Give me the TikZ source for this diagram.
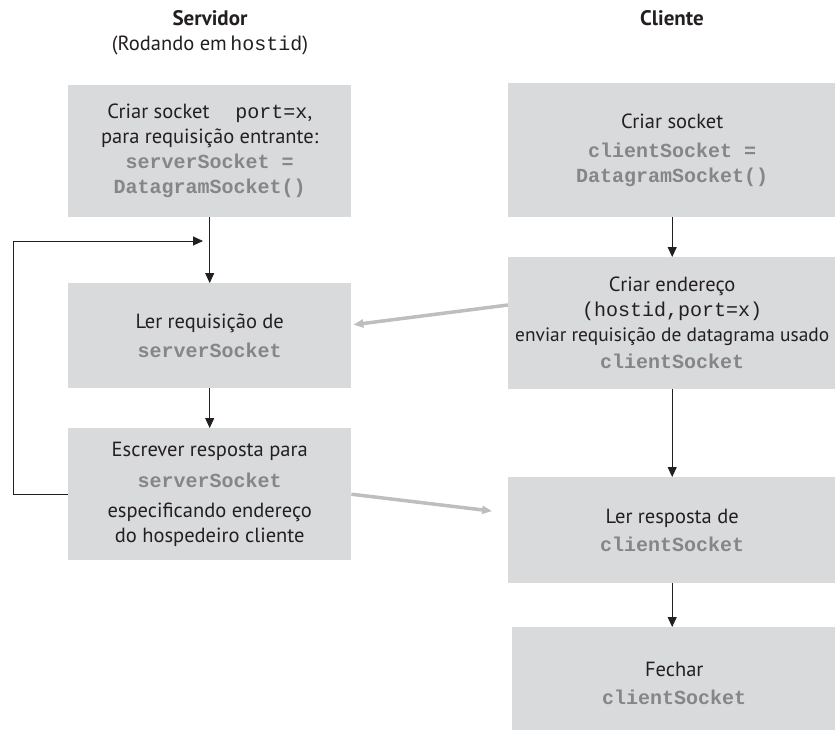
\documentclass[tikz,border=0pt]{standalone}
\usepackage{fontspec}
\setmainfont{PT Sans}
\setmonofont{Liberation Mono}
\usepackage{xcolor}
\usetikzlibrary{arrows.meta,calc}
\definecolor{udpbox}{HTML}{D9DADC}
\definecolor{udpcode}{HTML}{858688}
\definecolor{udpink}{HTML}{231F20}
\definecolor{udpflow}{HTML}{BCBEC0}
\newcommand{\cod}[1]{{\fontsize{20}{25}\ttfamily\bfseries\color{udpcode}#1}}
\newcommand{\mon}[1]{{\fontsize{20}{25}\ttfamily #1}}
\tikzset{
  passo/.style={rectangle, fill=udpbox, text=udpink, align=center,
                font=\fontsize{20.5}{25}\selectfont, inner sep=0pt,
                anchor=north west, minimum width=283pt},
  cpasso/.style={passo, minimum width=328pt},
  cab/.style={font=\fontsize{21}{24}\selectfont\bfseries, text=udpink},
  seta/.style={-{Triangle[length=10pt,width=9pt]}, draw=udpink, line width=0.9pt},
  dado/.style={-{Triangle[length=10pt,width=8pt]}, draw=udpflow, line width=3.5pt},
}
\begin{document}
\begin{tikzpicture}[x=1pt,y=1pt]
\clip (0,0) rectangle (835,-730);
\useasboundingbox (0,0) rectangle (835,-730);

% headers
\node[cab] (srv) at (210,-18) {Servidor};
\node[text=udpink,font=\fontsize{20.5}{24}\selectfont] (srvhost) at (210,-45)
   {(Rodando em\,\mon{hostid})};
\node[cab] (cli) at (672,-18) {Cliente};

% server side
\node[passo,minimum height=132pt] (s1) at (68,-85)
   {Criar socket\quad\ \mon{port=x},\\para requisição entrante:\\
    \cod{serverSocket =}\\\cod{DatagramSocket()}};
\node[passo,minimum height=105pt] (s2) at (68,-283)
   {Ler requisição de\\[4pt]\cod{serverSocket}};
\node[passo,minimum height=132pt] (s3) at (68,-428)
   {Escrever resposta para\\[6pt]\cod{serverSocket}\\[5pt]especificando endereço\\do hospedeiro cliente};

% client side
\node[cpasso,minimum height=134pt] (c1) at (508,-83)
   {Criar socket\\[4pt]\cod{clientSocket =}\\\cod{DatagramSocket()}};
\node[cpasso,minimum height=132pt] (c2) at (508,-257)
   {Criar endereço\\\mon{(hostid,port=x)}\\
    {\fontsize{19.4}{25}\selectfont enviar requisição de datagrama usado}\\[2pt]\cod{clientSocket}};
\node[cpasso,minimum height=106pt] (c3) at (508,-477)
   {Ler resposta de\\[3pt]\cod{clientSocket}};
\node[cpasso,minimum width=324pt,minimum height=113pt] (c4) at (512,-627)
   {Fechar\\[3pt]\cod{clientSocket}};

\coordinate (laco) at (203,-241);

% flow arrows
\draw[seta] (s1.south) -- (s2.north);
\draw[seta] (s2.south) -- (s3.north);
\draw[seta] (s3.west) -- ++(-55,0) |- (laco);
\draw[seta] (c1.south) -- (c1.south |- c2.north);
\draw[seta] (c2.south) -- (c2.south |- c3.north);
\draw[seta] (c3.south) -- (c3.south |- c4.north);

% datagrams
\draw[dado,shorten >=2pt] ($(c2.north west)+(0,-48)$) -- ($(s2.north east)+(0,-42)$);
\draw[dado,shorten >=16pt] (s3.east) -- ($(c3.north west)+(0,-36)$);
\end{tikzpicture}
\end{document}
